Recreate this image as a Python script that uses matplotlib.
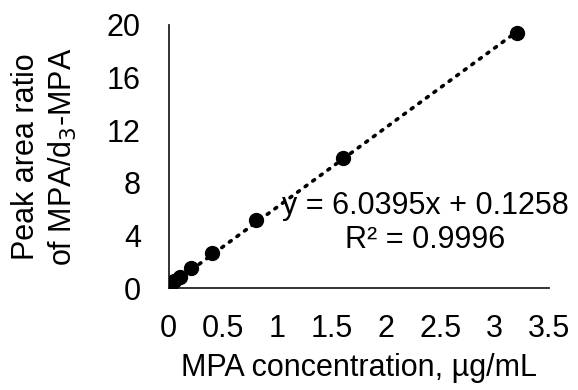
import numpy as np
import matplotlib.pyplot as plt

plt.rcParams['font.family'] = ['Liberation Sans', 'DejaVu Sans']

# calibration standards, ug/mL and peak area ratio
conc = [0.0, 0.0125, 0.025, 0.05, 0.1, 0.2, 0.4, 0.8, 1.6, 3.2]
ratio = [0.05, 0.15, 0.3, 0.5, 0.85, 1.5, 2.68, 5.17, 9.86, 19.4]

slope = 6.0395
intercept = 0.1258
r2 = 0.9996

x_ticks = [0, 0.5, 1, 1.5, 2, 2.5, 3, 3.5]
x_tick_labels = ["0", "0.5", "1", "1.5", "2", "2.5", "3", "3.5"]
y_ticks = [0, 4, 8, 12, 16, 20]


def main():
    fig = plt.figure(figsize=(5.78, 3.9), dpi=100)
    ax = fig.add_axes([0.292, 0.2615, 0.658, 0.675])

    xs = np.array([0, max(conc)])
    ax.plot(xs, slope * xs + intercept, color="black", linestyle=(0, (0.6, 2.0)),
            linewidth=2.6, dash_capstyle="round", zorder=2)
    ax.plot(conc, ratio, "o", color="black", markersize=10, zorder=3)

    ax.set_xlim(0, 3.5)
    ax.set_ylim(0, 20)
    ax.set_xticks(x_ticks)
    ax.set_xticklabels(x_tick_labels)
    ax.set_yticks(y_ticks)
    ax.tick_params(axis="y", length=0, labelsize=22, pad=20, colors="black")
    ax.tick_params(axis="x", length=0, labelsize=22, pad=19, colors="black")

    for side in ["top", "right"]:
        ax.spines[side].set_visible(False)
    for side in ["left", "bottom"]:
        ax.spines[side].set_linewidth(1.3)
        ax.spines[side].set_color("#222222")

    ax.set_xlabel("MPA concentration, µg/mL", fontsize=22, labelpad=6)
    ax.set_ylabel("Peak area ratio\nof MPA/d$_3$-MPA", fontsize=22, labelpad=20,
                  linespacing=1.25)

    eq = "y = %.4fx + %.4f\nR² = %.4f" % (slope, intercept, r2)
    ax.text(425, 390 - 223, eq, transform=None,
            fontsize=22, ha="center", va="center", multialignment="center",
            linespacing=1.2)

    fig.savefig("out.png", dpi=100)


if __name__ == "__main__":
    main()
